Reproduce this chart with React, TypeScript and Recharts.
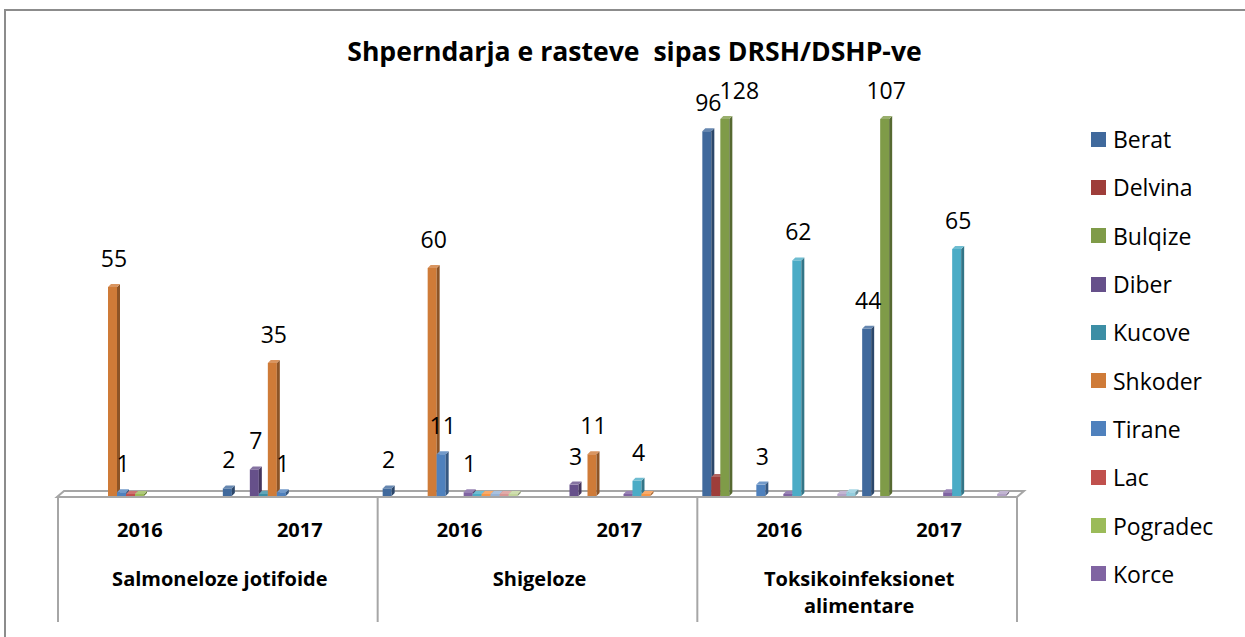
import { BarChart, Bar, XAxis, YAxis, Legend, LabelList, ReferenceArea } from 'recharts';

// categories (disease + year), read left to right
const diseases = ['Salmoneloze jotifoide', 'Shigeloze', 'Toksikoinfeksionet alimentare'];
const years = ['2016', '2017'];

// one value per category: Salm 2016, Salm 2017, Shig 2016, Shig 2017, Toks 2016, Toks 2017
// null = no column, 0 = flat column
const berat = [null, 2, 2, null, 96, 44];
const delvina = [null, null, null, null, 5, null];
const bulqize = [null, null, null, null, 128, 107];
const diber = [null, 7, null, 3, null, null];
const kucove = [null, 0, null, null, null, null];
const shkoder = [55, 35, 60, 11, null, null];
const tirane = [1, 1, 11, null, 3, null];
const lac = [0, null, null, null, null, null];
const pogradec = [0, null, null, null, null, null];
const korce = [null, null, 1, 0, 0, 1];
// series 11-17 are cut off from the legend in the source picture
const drsh11 = [null, null, 0, 4, 62, 65];
const drsh12 = [null, null, 0, 0, null, null];
const drsh13 = [null, null, 0, null, null, null];
const drsh14 = [null, null, 0, null, null, null];
const drsh15 = [null, null, 0, null, null, null];
const drsh16 = [null, null, null, null, 0, 0];
const drsh17 = [null, null, null, null, 1, null];

const series = [
  { name: 'Berat', values: berat, color: '#40699C', label: true },
  { name: 'Delvina', values: delvina, color: '#9E3D3A', label: false },
  { name: 'Bulqize', values: bulqize, color: '#7F9B48', label: true },
  { name: 'Diber', values: diber, color: '#66508A', label: true },
  { name: 'Kucove', values: kucove, color: '#3C8EA5', label: false },
  { name: 'Shkoder', values: shkoder, color: '#CF7B38', label: true },
  { name: 'Tirane', values: tirane, color: '#4F81BD', label: true },
  { name: 'Lac', values: lac, color: '#C0504D', label: false },
  { name: 'Pogradec', values: pogradec, color: '#9BBB59', label: false },
  { name: 'Korce', values: korce, color: '#8064A2', label: true },
  { name: 'DRSH 11', values: drsh11, color: '#4BACC6', label: true },
  { name: 'DRSH 12', values: drsh12, color: '#F79646', label: false },
  { name: 'DRSH 13', values: drsh13, color: '#95B3D7', label: false },
  { name: 'DRSH 14', values: drsh14, color: '#D99694', label: false },
  { name: 'DRSH 15', values: drsh15, color: '#C3D69B', label: false },
  { name: 'DRSH 16', values: drsh16, color: '#B3A2C7', label: false },
  { name: 'DRSH 17', values: drsh17, color: '#93CDDD', label: false },
];
const legendCount = 10;

const categories = diseases.flatMap((d) => years.map((y) => `${d} ${y}`));
const data = categories.map((cat, i) => {
  const row: Record<string, any> = { cat };
  series.forEach((s) => (row[s.name] = s.values[i]));
  return row;
});

// labels that Excel moved or hid (series-categoryIndex)
const labelNudge: Record<string, number> = { 'Bulqize-4': 13 };
const labelHidden = ['Korce-5'];

const W = 1245;
const H = 637;
const PLOT_LEFT = 60;
const PLOT_RIGHT = 1019;
const PLOT_TOP = 116;
const PLOT_BOTTOM = 496;
const BAND = (PLOT_RIGHT - PLOT_LEFT) / categories.length;
const DEPTH = 3;
const FONT = '"Open Sans", "Noto Sans", sans-serif';

function shade(hex: string, f: number) {
  const n = parseInt(hex.slice(1), 16);
  const c = [(n >> 16) & 255, (n >> 8) & 255, n & 255].map((v) =>
    Math.round(f < 0 ? v * (1 + f) : v + (255 - v) * f)
  );
  return `rgb(${c[0]},${c[1]},${c[2]})`;
}

const Bar3D = (p: any) => {
  const v = p.payload ? p.payload[p.k] : null;
  if (v == null || !Number.isFinite(p.x) || !Number.isFinite(p.y)) return <g />;
  const x = p.x;
  const w = p.width;
  const base = p.y + p.height;
  let top = Math.max(p.y, PLOT_TOP + DEPTH);
  if (base - top < 2) top = base - 2;
  const d = DEPTH;
  return (
    <g>
      <rect x={x} y={top} width={w} height={base - top} fill={p.fill} />
      <polygon
        points={`${x + w},${top} ${x + w + d},${top - d} ${x + w + d},${base - d} ${x + w},${base}`}
        fill={shade(p.fill, -0.32)}
      />
      <polygon
        points={`${x},${top} ${x + d},${top - d} ${x + w + d},${top - d} ${x + w},${top}`}
        fill={shade(p.fill, 0.2)}
      />
    </g>
  );
};

const renderLabel = (key: string) => (p: any) => {
  const vb = p.viewBox || p;
  const { value } = p;
  if (value == null || value <= 0) return null;
  const cat = Math.floor((vb.x - PLOT_LEFT) / BAND);
  if (labelHidden.includes(`${key}-${cat}`)) return null;
  const top = Math.max(vb.y, PLOT_TOP + DEPTH) - DEPTH;
  const dx = labelNudge[`${key}-${cat}`] || 0;
  return (
    <text
      x={vb.x + vb.width / 2 + DEPTH / 2 + dx}
      y={top - 17}
      textAnchor="middle"
      fontFamily={FONT}
      fontSize={23}
      fill="#000"
    >
      {value}
    </text>
  );
};

const Floor = (p: any) => {
  const base = p.y + p.height;
  const l = p.x - 3;
  const r = p.x + p.width - 2;
  return (
    <polygon
      points={`${l},${base + 1} ${r},${base + 1} ${r + 7},${base - 5} ${l + 7},${base - 5}`}
      fill="#fff"
      stroke="#A6A6A6"
      strokeWidth={2}
    />
  );
};

const CategoryTick = (p: any) => {
  const i = p.index ?? p.payload?.index ?? 0;
  const cx = p.x;
  const half = BAND / 2;
  const lineTop = PLOT_BOTTOM + 1;
  const lineBottom = 622;
  const year = years[i % years.length];
  const out = [
    <text key="y" x={cx} y={537} textAnchor="middle" fontFamily={FONT} fontWeight={700} fontSize={20} fill="#000">
      {year}
    </text>,
  ];
  if (i % years.length === 0) {
    const name = diseases[Math.floor(i / years.length)];
    const words = name.split(' ');
    const lines = name.length > 24 ? [words.slice(0, -1).join(' '), words[words.length - 1]] : [name];
    lines.forEach((ln, j) =>
      out.push(
        <text key={`g${j}`} x={cx + half} y={586 + j * 27} textAnchor="middle" fontFamily={FONT} fontWeight={700} fontSize={20} fill="#000">
          {ln}
        </text>
      )
    );
    out.push(<line key="l" x1={cx - half - 2} x2={cx - half - 2} y1={lineTop} y2={lineBottom} stroke="#A6A6A6" strokeWidth={2} />);
  }
  if (i === categories.length - 1) {
    out.push(<line key="r" x1={cx + half - 2} x2={cx + half - 2} y1={lineTop} y2={lineBottom} stroke="#A6A6A6" strokeWidth={2} />);
  }
  return <g>{out}</g>;
};

const LegendBox = () => (
  <div style={{ fontFamily: FONT, fontSize: 23, color: '#000' }}>
    {series.slice(0, legendCount).map((s) => (
      <div key={s.name} style={{ height: 48.3, display: 'flex', alignItems: 'center' }}>
        <span style={{ width: 15, height: 15, background: s.color, marginRight: 7, flex: 'none' }} />
        <span>{s.name}</span>
      </div>
    ))}
  </div>
);

export default function App() {
  return (
    <div style={{ position: 'fixed', left: 0, top: 0, width: W, height: H, background: '#fff', overflow: 'hidden' }}>
      <div style={{ position: 'absolute', left: 4, top: 9, width: 1300, height: 700, border: '2px solid #8C8C8C' }} />
      <div
        style={{
          position: 'absolute',
          left: 0,
          top: 36,
          width: 1269,
          textAlign: 'center',
          fontFamily: FONT,
          fontWeight: 700,
          fontSize: 26.6,
          lineHeight: '30px',
          color: '#000',
          whiteSpace: 'pre',
        }}
      >
        {'Shperndarja e rasteve  sipas DRSH/DSHP-ve'}
      </div>
      <div style={{ position: 'absolute', left: 0, top: 0 }}>
        <BarChart
          width={W}
          height={H}
          data={data}
          margin={{ top: PLOT_TOP, right: W - PLOT_RIGHT, bottom: 0, left: PLOT_LEFT }}
          barCategoryGap={3}
          barGap={0}
        >
          <XAxis
            dataKey="cat"
            interval={0}
            height={H - PLOT_BOTTOM}
            tickLine={false}
            axisLine={false}
            tick={CategoryTick}
          />
          <YAxis hide domain={[0, 100]} allowDataOverflow />
          <ReferenceArea
            x1={categories[0]}
            x2={categories[categories.length - 1]}
            y1={0}
            y2={1}
            ifOverflow="visible"
            shape={Floor}
          />
          <Legend
            layout="vertical"
            align="center"
            verticalAlign="middle"
            wrapperStyle={{ left: 1091, top: 115, width: 154 }}
            content={LegendBox}
          />
          {series.map((s) => (
            <Bar
              key={s.name}
              dataKey={s.name}
              fill={s.color}
              isAnimationActive={false}
              shape={(p: any) => <Bar3D {...p} k={s.name} />}
            >
              {s.label && <LabelList dataKey={s.name} content={renderLabel(s.name)} />}
            </Bar>
          ))}
        </BarChart>
      </div>
    </div>
  );
}
